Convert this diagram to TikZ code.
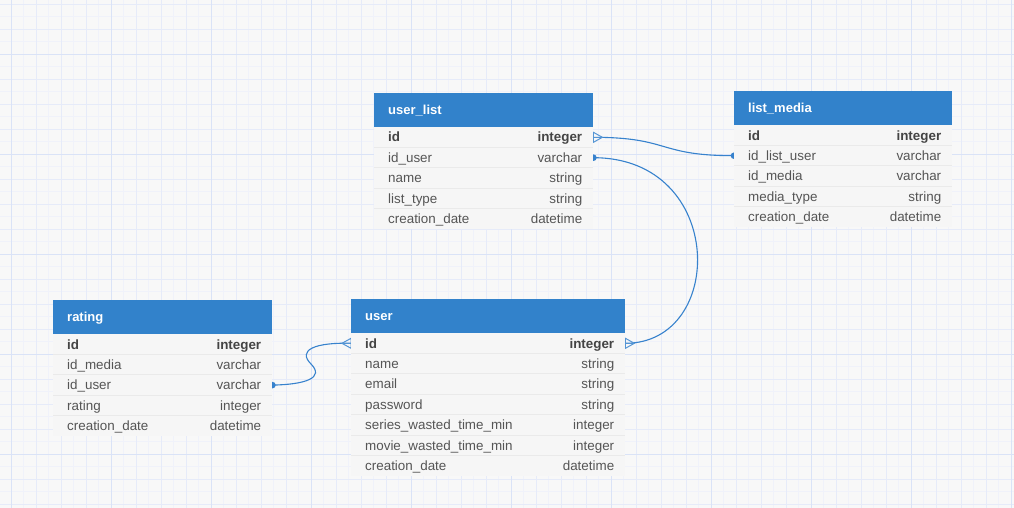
\documentclass[tikz,border=0pt]{standalone}
\usepackage{fontspec}
\setmainfont{Liberation Sans}
\usetikzlibrary{calc}
\definecolor{bgc}{RGB}{248,248,248}
\definecolor{gfaint}{RGB}{240,242,250}
\definecolor{gmed}{RGB}{230,235,249}
\definecolor{gstrong}{RGB}{218,227,247}
\definecolor{hdrc}{RGB}{50,130,203}
\definecolor{rowc}{RGB}{246,246,246}
\definecolor{sepc}{RGB}{234,234,234}
\definecolor{txtc}{RGB}{85,85,85}
\definecolor{idc}{RGB}{68,68,68}
\definecolor{connc}{RGB}{55,130,205}
\pgfdeclarelayer{gridlayer}
\pgfdeclarelayer{connlayer}
\pgfsetlayers{gridlayer,connlayer,main}
\tikzset{
  hdr/.style={fill=hdrc, draw=none, minimum height=33.5, inner sep=0, anchor=north west},
  rowbox/.style={fill=rowc, draw=none, minimum height=20.4, inner sep=0, anchor=north west},
  fieldtxt/.style={inner sep=0, anchor=base west, text=txtc, font=\fontsize{13.4}{16}\selectfont},
  typetxt/.style={inner sep=0, anchor=base east, text=txtc, font=\fontsize{13.4}{16}\selectfont},
  titletxt/.style={inner sep=0, anchor=base west, text=white, font=\fontsize{13}{16}\selectfont\bfseries},
  conn/.style={draw=connc, line width=1.1},
  crowline/.style={draw=connc!85, line width=1},
  sepline/.style={draw=sepc, line width=0.8},
}
\newcommand{\erdtable}[6]{%
  \node[hdr,minimum width=#4] (#1) at (#2,#3) {};
  \node[titletxt] (#1-title) at ($(#1.west)+(14,4.6)$) {#5};
  \foreach [count=\i] \f/\t in {#6} {%
    \node[rowbox,minimum width=#4] (#1-\i) at ($(#1.south west)+(0,{(\i-1)*20.4})$) {};
    \ifnum\i>1 \draw[sepline] (#1-\i.north west) -- (#1-\i.north east);\fi
    \node[fieldtxt] (#1-\i-f) at ($(#1-\i.west)+(14,4.7)$) {\ifnum\i=1\color{idc}\bfseries\fi\f};
    \node[typetxt] (#1-\i-t) at ($(#1-\i.east)+(-11,4.7)$) {\ifnum\i=1\color{idc}\bfseries\fi\t};
  }%
}
\newcommand{\crowR}[1]{%
  \draw[crowline] ($(#1)+(0,-5)$) -- ($(#1)+(9,0)$) -- ($(#1)+(0,5)$) -- cycle;
  \draw[crowline] (#1) -- ($(#1)+(9,0)$);}
\newcommand{\crowL}[1]{%
  \draw[crowline] ($(#1)+(0,-5)$) -- ($(#1)+(-9,0)$) -- ($(#1)+(0,5)$) -- cycle;
  \draw[crowline] (#1) -- ($(#1)+(-9,0)$);}
\begin{document}
\begin{tikzpicture}[x=1pt,y=-1pt]
\useasboundingbox (0,0) rectangle (1014,508);
\begin{pgfonlayer}{gridlayer}
  \fill[bgc] (0,0) rectangle (1014,508);
  \foreach \i in {0,...,82} {\draw[gfaint,line width=0.8] ({-1.5+\i*12.5},0) -- ++(0,508);}
  \foreach \i in {0,...,41} {\draw[gfaint,line width=0.8] (0,{4.3+\i*12.5}) -- ++(1014,0);}
  \foreach \i in {0,...,40} {\draw[gmed,line width=0.8] ({11+\i*25},0) -- ++(0,508);}
  \foreach \i in {0,...,20} {\draw[gmed,line width=0.8] (0,{4.3+\i*25}) -- ++(1014,0);}
  \foreach \i in {0,...,10} {\draw[gstrong,line width=0.8] ({11+\i*100},0) -- ++(0,508);}
  \foreach \i in {0,...,4} {\draw[gstrong,line width=0.8] (0,{54.3+\i*100}) -- ++(1014,0);}
\end{pgfonlayer}

\erdtable{ul}{374}{93}{219}{user\_list}{id/integer, id\_user/varchar, name/string, list\_type/string, creation\_date/datetime}
\erdtable{lm}{734}{91}{218}{list\_media}{id/integer, id\_list\_user/varchar, id\_media/varchar, media\_type/string, creation\_date/datetime}
\erdtable{ra}{53}{300}{219}{rating}{id/integer, id\_media/varchar, id\_user/varchar, rating/integer, creation\_date/datetime}
\erdtable{us}{351}{299}{274}{user}{id/integer, name/string, email/string, password/string, series\_wasted\_time\_min/integer, movie\_wasted\_time\_min/integer, creation\_date/datetime}

\begin{pgfonlayer}{connlayer}
  % user_list.id -> list_media.id_list_user
  \draw[conn] (ul-1.east) .. controls +(77,0) and +(-77,0) .. (lm-2.west);
  \crowR{ul-1.east}
  \fill[connc] (lm-2.west) circle (3.3);
  % user_list.id_user -> user.id
  \draw[conn] (ul-2.east) .. controls +(133,0) and +(101,0) .. (us-1.east);
  \fill[connc] (ul-2.east) circle (3.3);
  \crowR{us-1.east}
  % rating.id_user -> user.id
  \draw[conn] (ra-3.east) .. controls (305,384.5) and (325,378) .. (311,364)
              .. controls (297,350) and (315,342.3) .. (us-1.west);
  \fill[connc] (ra-3.east) circle (3.3);
  \crowL{us-1.west}
\end{pgfonlayer}
\end{tikzpicture}
\end{document}
